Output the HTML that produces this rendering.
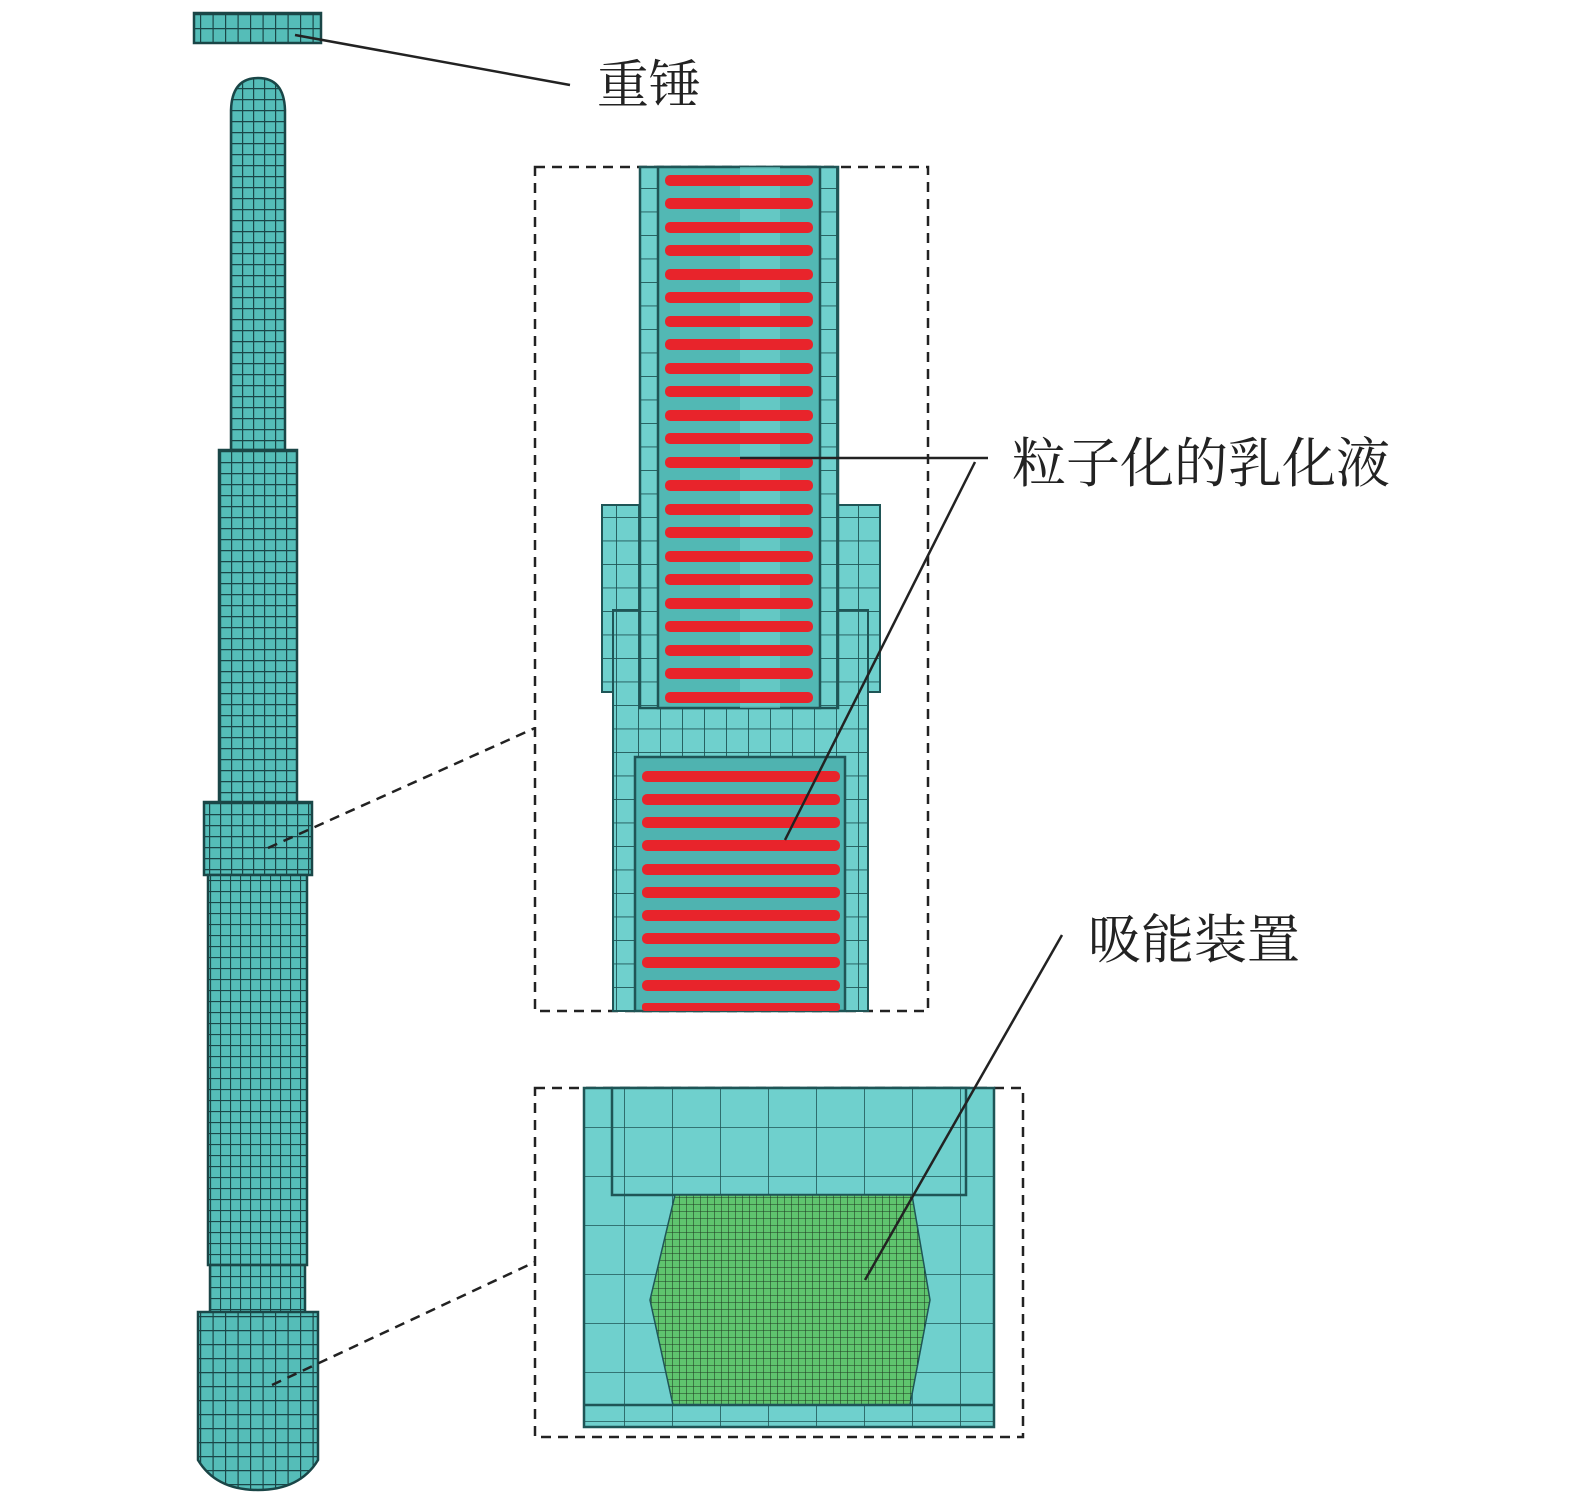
<!DOCTYPE html>
<html><head><meta charset="utf-8"><style>
html,body{margin:0;padding:0;background:#fff;}
svg{display:block;}
text{font-family:"Liberation Serif","Noto Serif CJK SC",serif;fill:#222;}
</style></head><body>
<svg width="1575" height="1510" viewBox="0 0 1575 1510" xmlns="http://www.w3.org/2000/svg">
<defs>
<pattern id="g11" width="11" height="11" patternUnits="userSpaceOnUse"><rect width="11" height="11" fill="#55bdb8"/><path d="M0 0H11M0 0V11" stroke="#1a4647" stroke-width="2.4"/></pattern>
<pattern id="g12" width="12.5" height="14" patternUnits="userSpaceOnUse"><rect width="12.5" height="14" fill="#55bdb8"/><path d="M0 0H12.5M0 0V14" stroke="#1a4647" stroke-width="2.4"/></pattern>
<pattern id="g10" width="10" height="11" patternUnits="userSpaceOnUse"><rect width="10" height="11" fill="#55bdb8"/><path d="M0 0H10M0 0V11" stroke="#1a4647" stroke-width="2.2"/></pattern>
<pattern id="gm" width="22" height="23.5" patternUnits="userSpaceOnUse"><rect width="22" height="23.5" fill="#6fd0cd"/><path d="M0 0H22M0 0V23.5" stroke="#1f5556" stroke-width="1.8"/></pattern>
<pattern id="gb" width="48" height="49" patternUnits="userSpaceOnUse"><rect width="48" height="49" fill="#6fd0cd"/><path d="M0 0H48M0 0V49" stroke="#1f5556" stroke-width="1.6"/></pattern>
<pattern id="gg" width="7" height="7" patternUnits="userSpaceOnUse"><rect width="7" height="7" fill="#5fc46e"/><path d="M0 0H7M0 0V7" stroke="#1f3a22" stroke-width="1.1"/></pattern>
</defs>

<!-- hammer -->
<rect x="194" y="13" width="127" height="30" fill="url(#g12)" stroke="#1a4647" stroke-width="2.5"/>
<line x1="295" y1="35" x2="570" y2="85" stroke="#222" stroke-width="2.5"/>
<text x="597" y="103" font-size="52">重锤</text>

<!-- left rod -->
<path d="M231 110 Q232 78 258 78 Q284 78 285 110 V450 H231Z" fill="url(#g11)" stroke="#1a4647" stroke-width="2.5"/>
<rect x="219" y="450" width="78" height="355" fill="url(#g11)" stroke="#1a4647" stroke-width="2.5"/>
<rect x="204" y="802" width="108" height="73" fill="url(#g11)" stroke="#1a4647" stroke-width="2.5"/>
<rect x="208" y="875" width="99" height="390" fill="url(#g10)" stroke="#1a4647" stroke-width="2.5"/>
<rect x="210" y="1265" width="95" height="50" fill="url(#g10)" stroke="#1a4647" stroke-width="2.5"/>
<path d="M198 1312 H318 V1460 Q300 1490 258 1490 Q216 1490 198 1460Z" fill="url(#g12)" stroke="#1a4647" stroke-width="2.5"/>

<line x1="268" y1="848" x2="535" y2="728" stroke="#222" stroke-width="2.5" stroke-dasharray="10,7"/>
<line x1="272" y1="1385" x2="535" y2="1262" stroke="#222" stroke-width="2.5" stroke-dasharray="10,7"/>

<!-- upper detail -->
<rect x="535" y="167" width="393" height="844" fill="none" stroke="#222" stroke-width="2.5" stroke-dasharray="10,7"/>
<rect x="602" y="505" width="278" height="187" fill="url(#gm)" stroke="#1f5556" stroke-width="2"/>
<rect x="613" y="610" width="255" height="401" fill="url(#gm)" stroke="#1f5556" stroke-width="2"/>
<rect x="635" y="757" width="210" height="254" fill="#4fb3b0" stroke="#1f5556" stroke-width="2.5"/>
<rect x="640" y="167" width="198" height="541" fill="url(#gm)" stroke="#1f5556" stroke-width="2.5"/>
<rect x="658" y="167" width="162" height="541" fill="#52b8b4" stroke="#1f5556" stroke-width="2.5"/>
<rect x="740" y="167" width="40" height="541" fill="#72d2ce" opacity="0.6"/>
<g fill="#e8242b">
<rect x="665" y="175" width="148" height="11" rx="5"/><rect x="665" y="198" width="148" height="11" rx="5"/><rect x="665" y="222" width="148" height="11" rx="5"/><rect x="665" y="245" width="148" height="11" rx="5"/><rect x="665" y="269" width="148" height="11" rx="5"/><rect x="665" y="292" width="148" height="11" rx="5"/><rect x="665" y="316" width="148" height="11" rx="5"/><rect x="665" y="339" width="148" height="11" rx="5"/><rect x="665" y="363" width="148" height="11" rx="5"/><rect x="665" y="386" width="148" height="11" rx="5"/><rect x="665" y="410" width="148" height="11" rx="5"/><rect x="665" y="433" width="148" height="11" rx="5"/><rect x="665" y="457" width="148" height="11" rx="5"/><rect x="665" y="480" width="148" height="11" rx="5"/><rect x="665" y="504" width="148" height="11" rx="5"/><rect x="665" y="527" width="148" height="11" rx="5"/><rect x="665" y="551" width="148" height="11" rx="5"/><rect x="665" y="574" width="148" height="11" rx="5"/><rect x="665" y="598" width="148" height="11" rx="5"/><rect x="665" y="621" width="148" height="11" rx="5"/><rect x="665" y="645" width="148" height="11" rx="5"/><rect x="665" y="668" width="148" height="11" rx="5"/><rect x="665" y="692" width="148" height="11" rx="5"/>
<rect x="642" y="771" width="198" height="11" rx="5"/><rect x="642" y="794" width="198" height="11" rx="5"/><rect x="642" y="817" width="198" height="11" rx="5"/><rect x="642" y="840" width="198" height="11" rx="5"/><rect x="642" y="864" width="198" height="11" rx="5"/><rect x="642" y="887" width="198" height="11" rx="5"/><rect x="642" y="910" width="198" height="11" rx="5"/><rect x="642" y="933" width="198" height="11" rx="5"/><rect x="642" y="957" width="198" height="11" rx="5"/><rect x="642" y="980" width="198" height="11" rx="5"/><rect x="642" y="1003" width="198" height="8" rx="3"/>
</g>
<line x1="740" y1="458" x2="988" y2="458" stroke="#222" stroke-width="2.5"/>
<line x1="975" y1="462" x2="785" y2="840" stroke="#222" stroke-width="2.5"/>
<text x="1012" y="482" font-size="54">粒子化的乳化液</text>

<!-- lower detail -->
<rect x="535" y="1088" width="488" height="349" fill="none" stroke="#222" stroke-width="2.5" stroke-dasharray="10,7"/>
<rect x="584" y="1088" width="410" height="339" fill="url(#gb)" stroke="#1f5556" stroke-width="2.5"/>
<rect x="612" y="1088" width="354" height="107" fill="url(#gb)" stroke="#1f5556" stroke-width="2.5"/>
<polygon points="675,1195 912,1195 930,1300 910,1405 673,1405 650,1300" fill="url(#gg)" stroke="#1f5556" stroke-width="1.5"/>
<line x1="584" y1="1405" x2="994" y2="1405" stroke="#1f5556" stroke-width="2.5"/>
<line x1="1062" y1="935" x2="865" y2="1280" stroke="#222" stroke-width="2.5"/>
<text x="1088" y="958" font-size="53">吸能装置</text>
</svg>
</body></html>
